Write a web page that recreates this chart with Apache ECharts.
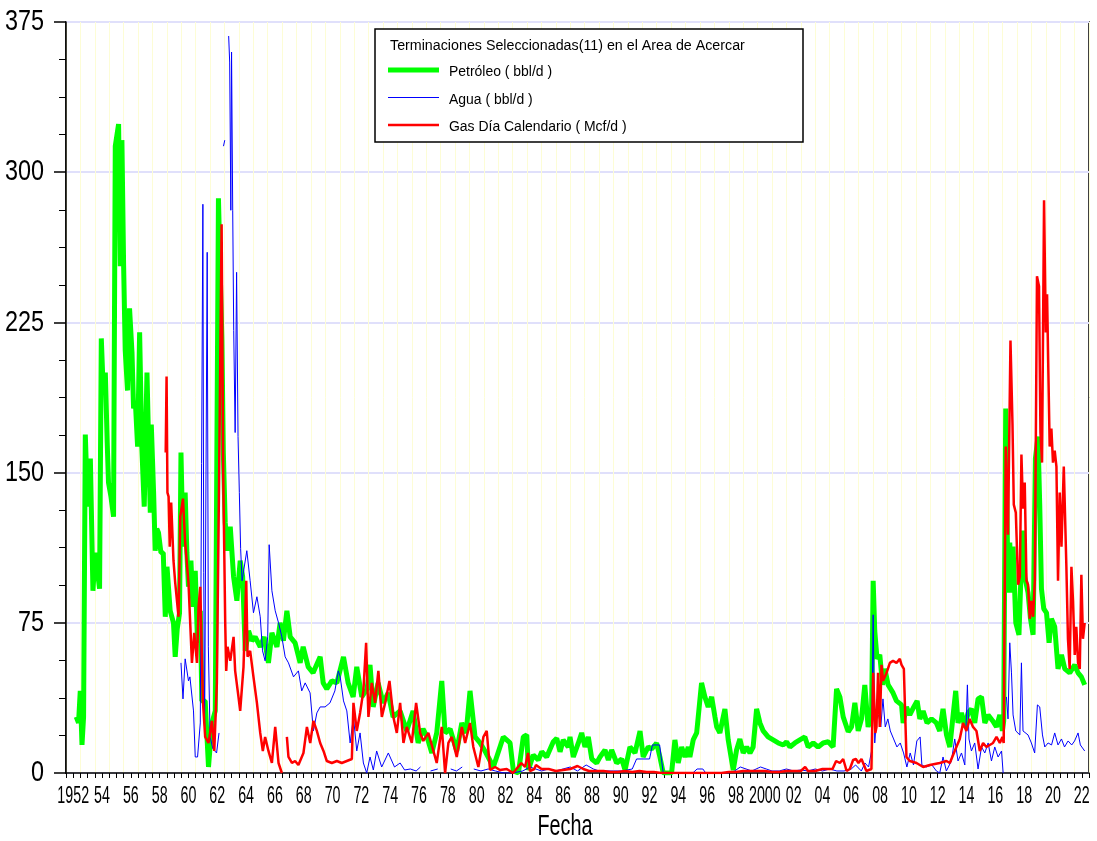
<!DOCTYPE html>
<html>
<head>
<meta charset="utf-8">
<script src="https://cdn.jsdelivr.net/npm/echarts@6/dist/echarts.min.js"></script>
<style>
html,body{margin:0;padding:0;background:#fff;}
#chart{width:1097px;height:841px;}
</style>
</head>
<body>
<div id="chart"></div>
<script>
// ---- Data (year, value) ----
const oil = [
[1952.71,28],[1952.87,25],[1952.99,41],[1953.11,14],[1953.22,28],[1953.34,169],[1953.50,133],[1953.69,157],[1953.87,91],[1954.03,110],[1954.33,92],[1954.45,217],[1954.59,190],[1954.73,200],[1954.86,165],[1954.95,145],[1955.12,138],[1955.30,128],[1955.42,313],[1955.65,324],[1955.77,253],[1955.88,316],[1956.00,253],[1956.11,211],[1956.27,191],[1956.41,232],[1956.58,210],[1956.69,182],[1956.81,186],[1956.97,163],[1957.11,220],[1957.26,163],[1957.43,133],[1957.62,200],[1957.73,166],[1957.85,130],[1957.92,174],[1958.08,140],[1958.19,111],[1958.30,122],[1958.42,120],[1958.59,110],[1958.75,110],[1958.89,78],[1959.01,103],[1959.23,81],[1959.46,75],[1959.58,58],[1959.72,72],[1959.88,80],[1959.98,160],[1960.12,113],[1960.27,140],[1960.39,110],[1960.50,93],[1960.67,106],[1960.81,83],[1960.97,101],[1961.13,65],[1961.32,81],[1961.43,36],[1961.66,36],[1961.89,3],[1962.13,25],[1962.36,31],[1962.58,287],[1962.70,287],[1962.82,216],[1962.92,160],[1963.05,125],[1963.21,111],[1963.40,123],[1963.63,98],[1963.86,86],[1964.09,106],[1964.26,98],[1964.44,61],[1964.67,71],[1964.90,66],[1965.13,68],[1965.48,63],[1965.75,68],[1966.05,55],[1966.29,70],[1966.64,63],[1966.86,75],[1967.09,66],[1967.33,81],[1967.56,68],[1967.90,65],[1968.25,55],[1968.46,63],[1968.81,53],[1969.15,50],[1969.64,58],[1969.85,45],[1970.10,42],[1970.45,46],[1970.80,45],[1971.26,58],[1971.58,45],[1971.93,38],[1972.18,53],[1972.53,38],[1972.90,42],[1973.10,54],[1973.32,33],[1973.66,45],[1974.01,35],[1974.36,40],[1974.70,28],[1975.19,31],[1975.65,21],[1976.09,31],[1976.44,15],[1976.78,22],[1977.06,18],[1977.39,10],[1977.73,20],[1978.08,46],[1978.31,20],[1978.66,22],[1979.12,11],[1979.47,25],[1979.77,20],[1980.04,41],[1980.39,18],[1980.74,15],[1981.08,11],[1981.66,3],[1982.35,18],[1982.82,15],[1983.05,1],[1983.40,0],[1983.74,18],[1983.98,19],[1984.09,1.5],[1984.43,9],[1984.78,6.5],[1985.02,10.6],[1985.36,8],[1985.82,15.6],[1986.06,17.3],[1986.29,10.6],[1986.51,16.5],[1986.86,13],[1986.98,18],[1987.21,8],[1987.56,15],[1987.79,20],[1988.02,13],[1988.25,18],[1988.49,7],[1988.83,5],[1989.06,8],[1989.41,11.5],[1989.64,6.5],[1989.87,11.5],[1990.22,5],[1990.57,7],[1990.80,1.5],[1991.14,13],[1991.49,10],[1991.84,21],[1992.06,8],[1992.41,13],[1992.65,12],[1992.99,15],[1993.22,8],[1993.45,0],[1994.03,0],[1994.26,16.5],[1994.49,5],[1994.73,13],[1994.96,8],[1995.19,13],[1995.30,8],[1995.53,16.5],[1995.77,20],[1996.11,45],[1996.34,38],[1996.57,33],[1996.81,38],[1997.04,28],[1997.16,23],[1997.38,20],[1997.73,32],[1997.96,16.5],[1998.31,1.5],[1998.54,11.5],[1998.77,17],[1999.00,10],[1999.24,13],[1999.47,10],[1999.69,13],[1999.93,32],[2000.16,25],[2000.39,21],[2000.73,18],[2001.08,16.5],[2001.43,15],[2001.78,14],[2002.01,15.6],[2002.24,13],[2002.59,15],[2002.93,16.5],[2003.28,18],[2003.51,13],[2003.86,15],[2004.20,13],[2004.55,15],[2004.90,15.6],[2005.24,13],[2005.48,42],[2005.71,38],[2005.94,28],[2006.29,20.6],[2006.52,23],[2006.75,35],[2006.98,21],[2007.21,27],[2007.44,44],[2007.67,23],[2007.91,30],[2008.02,96],[2008.13,71],[2008.29,57],[2008.48,59],[2008.67,44],[2008.83,52],[2009.06,44],[2009.40,40],[2009.64,36],[2009.99,34],[2010.10,25],[2010.33,33],[2010.56,29],[2010.84,33],[2011.07,36],[2011.26,27],[2011.49,31],[2011.76,25],[2012.07,27],[2012.41,25],[2012.64,21],[2012.87,32],[2013.11,19],[2013.34,13],[2013.57,29],[2013.75,41],[2013.91,25],[2014.15,30],[2014.38,23],[2014.61,30],[2014.84,32],[2015.07,25],[2015.30,37],[2015.54,38],[2015.77,25],[2016.00,29],[2016.32,26],[2016.58,23],[2016.81,29],[2016.99,21],[2017.08,26],[2017.22,182],[2017.38,90],[2017.50,115],[2017.62,90],[2017.73,113],[2017.92,75],[2018.14,69],[2018.38,121],[2018.54,98],[2018.77,90],[2018.94,77],[2019.12,69],[2019.28,157],[2019.46,168],[2019.58,134],[2019.70,92],[2019.86,82],[2020.05,80],[2020.23,65],[2020.39,77],[2020.62,73],[2020.85,52],[2021.09,59],[2021.32,52],[2021.66,50],[2022.01,54],[2022.24,50],[2022.47,48],[2022.70,44]
];
const water = [
[1959.98,55],[1960.12,37],[1960.27,57],[1960.50,46],[1960.60,48],[1960.85,31],[1960.97,8],[1961.13,8],[1961.32,25],[1961.50,284],[1961.56,100],[1961.62,20],[1961.80,260],[1961.88,63],[1962.00,18],[1962.20,12],[1962.45,10],[1962.62,20],[1962.80,null],[1962.93,313],[1963.02,316],[1963.10,null],[1963.29,368],[1963.36,355],[1963.44,281],[1963.49,360],[1963.57,281],[1963.64,221],[1963.74,170],[1963.84,250],[1963.94,168],[1964.03,140],[1964.12,112],[1964.22,96],[1964.55,111],[1964.78,96],[1965.01,80],[1965.25,88],[1965.48,78],[1965.64,61],[1965.82,56],[1966.00,68],[1966.10,114],[1966.29,91],[1966.52,81],[1966.75,75],[1966.98,68],[1967.21,58],[1967.44,55],[1967.79,48],[1968.13,51],[1968.36,41],[1968.60,45],[1968.94,40],[1969.17,21],[1969.41,30],[1969.64,33],[1969.98,33],[1970.32,35],[1970.66,41],[1970.90,51],[1971.03,48],[1971.26,36],[1971.49,31],[1971.72,15],[1971.95,28],[1972.18,11],[1972.41,20],[1972.64,5],[1972.87,0],[1973.10,8],[1973.33,1.5],[1973.56,11],[1973.91,3],[1974.37,10],[1974.80,3],[1975.19,5],[1975.50,1.5],[1975.90,2],[1976.30,1],[1976.60,3],[1976.90,null],[1977.30,1],[1977.80,2],[1978.20,null],[1978.70,2],[1979.10,1],[1979.50,3],[1979.90,null],[1980.30,2],[1980.80,1],[1981.30,2],[1981.80,1],[1982.40,0],[1983.00,0],[1983.70,1],[1984.20,3],[1984.60,2],[1985.00,1],[1985.50,2],[1986.00,1],[1986.50,2],[1987.00,3],[1987.50,1],[1988.10,4],[1988.60,2],[1989.00,1],[1989.50,1],[1990.00,1],[1990.60,1],[1991.30,2],[1991.60,7],[1992.50,7],[1992.70,14],[1993.20,14],[1993.45,0],[1995.50,0],[1995.80,2],[1996.20,2],[1996.40,0],[1998.00,0],[1998.40,1],[1998.80,3],[1999.20,2],[1999.60,1],[2000.20,3],[2000.60,2],[2001.00,1],[2001.50,1],[2002.00,2],[2002.50,1],[2003.00,1.5],[2003.50,1],[2004.00,2],[2004.50,1],[2005.00,2],[2005.50,1],[2006.00,1],[2006.50,2],[2006.80,4],[2007.20,1],[2007.45,5],[2007.70,3],[2007.91,11],[2008.02,79],[2008.13,15],[2008.25,27],[2008.40,29],[2008.55,23],[2008.70,37],[2008.86,23],[2009.04,27],[2009.21,21],[2009.44,17],[2009.67,13],[2009.90,15],[2010.13,10],[2010.36,3],[2010.59,10],[2010.82,4],[2011.05,16],[2011.28,18],[2011.40,4],[2011.70,3],[2012.10,4],[2012.41,1],[2012.64,0],[2012.87,8],[2013.10,1],[2013.45,6],[2013.68,17],[2013.91,6],[2014.15,10],[2014.38,4],[2014.56,44],[2014.67,17],[2014.84,11],[2015.07,15],[2015.30,2],[2015.54,13],[2015.77,10],[2016.00,15],[2016.23,6],[2016.46,13],[2016.69,8],[2016.93,11],[2017.04,0],[2017.12,null],[2017.27,38],[2017.38,27],[2017.50,65],[2017.62,50],[2017.73,29],[2017.92,21],[2018.20,19],[2018.31,55],[2018.42,21],[2018.77,19],[2019.00,15],[2019.23,10],[2019.42,34],[2019.58,33],[2019.77,19],[2019.93,13],[2020.16,15],[2020.40,14],[2020.62,20],[2020.85,14],[2021.09,17],[2021.30,13],[2021.55,16],[2021.80,14],[2022.00,16],[2022.24,20],[2022.40,14],[2022.70,11]
];
const gas = [
[1958.92,160],[1958.98,198],[1959.04,140],[1959.12,138],[1959.20,113],[1959.30,135],[1959.46,106],[1959.58,95],[1959.81,78],[1959.93,128],[1960.12,137],[1960.27,115],[1960.50,95],[1960.74,55],[1960.90,70],[1961.09,55],[1961.20,83],[1961.32,93],[1961.50,36],[1961.66,18],[1961.89,15],[1962.13,26],[1962.29,11],[1962.47,45],[1962.63,150],[1962.80,274],[1962.91,150],[1963.05,75],[1963.12,51],[1963.21,63],[1963.40,56],[1963.63,68],[1963.74,51],[1963.97,38],[1964.09,31],[1964.32,53],[1964.51,96],[1964.60,58],[1964.78,61],[1965.01,48],[1965.25,35],[1965.48,20],[1965.66,11],[1965.82,18],[1966.05,11],[1966.29,5],[1966.52,23],[1966.75,5],[1966.98,0],[1967.15,null],[1967.33,18],[1967.44,8],[1967.68,5],[1967.90,6],[1968.13,4],[1968.48,10],[1968.72,23],[1968.95,15],[1969.17,26],[1969.41,21],[1969.64,15],[1969.87,11],[1970.10,6],[1970.45,5],[1970.80,6],[1971.14,5],[1971.49,6],[1971.84,7],[1971.95,35],[1972.18,21],[1972.41,30],[1972.64,41],[1972.83,65],[1972.99,28],[1973.22,45],[1973.45,35],[1973.68,51],[1973.92,28],[1974.15,35],[1974.45,46],[1974.72,28],[1974.96,20],[1975.19,35],[1975.42,15],[1975.65,23],[1976.00,15],[1976.30,35],[1976.58,20],[1976.80,16],[1977.15,20],[1977.50,11],[1977.73,5],[1978.08,23],[1978.31,0],[1978.54,15],[1978.77,18],[1979.12,8],[1979.47,23],[1979.70,15],[1980.04,25],[1980.27,13],[1980.62,3],[1980.97,18],[1981.20,21],[1981.43,1.5],[1981.78,3],[1982.12,1.5],[1982.59,2],[1983.03,0],[1983.60,5],[1983.86,3],[1984.07,10],[1984.20,1],[1984.50,2],[1984.62,4],[1985.00,2],[1985.50,2],[1986.00,1],[1986.50,1.5],[1987.00,2],[1987.50,3.5],[1987.90,2],[1988.30,1],[1988.80,1],[1989.30,1],[1989.80,0.5],[1990.30,0.5],[1990.80,1],[1991.30,0.5],[1991.80,1],[1992.30,0.5],[1992.80,0.5],[1993.30,0],[1997.50,0],[1998.00,0.5],[1998.50,0.5],[1999.00,1],[1999.50,1],[2000.00,1],[2000.50,1],[2001.00,0.5],[2001.50,0.5],[2002.00,1],[2002.50,1],[2003.00,1],[2003.30,3],[2003.50,1],[2004.00,1],[2004.50,2],[2004.90,2],[2005.20,2],[2005.45,6],[2005.71,5],[2005.94,7],[2006.18,1],[2006.40,2],[2006.63,6.5],[2006.82,7],[2007.00,5],[2007.21,7],[2007.55,1],[2007.90,2],[2008.02,50],[2008.17,20],[2008.25,23],[2008.36,50],[2008.48,23],[2008.60,54],[2008.71,46],[2008.95,50],[2009.18,55],[2009.40,56],[2009.64,55],[2009.87,57],[2009.99,54],[2010.15,52],[2010.33,8],[2010.56,6],[2011.03,5],[2011.49,3],[2011.95,4],[2012.64,5],[2013.11,6],[2013.34,5],[2013.68,11],[2014.03,17],[2014.26,25],[2014.49,21],[2014.72,27],[2014.95,23],[2015.19,21],[2015.42,11],[2015.65,15],[2015.88,13],[2016.11,14],[2016.34,15],[2016.58,18],[2016.81,15],[2016.99,18],[2017.08,15],[2017.22,163],[2017.38,119],[2017.55,216],[2017.69,174],[2017.78,134],[2017.92,130],[2018.08,94],[2018.20,98],[2018.31,159],[2018.42,132],[2018.54,145],[2018.66,96],[2018.77,94],[2018.89,77],[2019.00,86],[2019.12,78],[2019.24,96],[2019.39,248],[2019.53,243],[2019.63,170],[2019.74,155],[2019.88,286],[2020.00,220],[2020.09,239],[2020.18,200],[2020.27,163],[2020.39,172],[2020.50,155],[2020.62,161],[2020.74,153],[2020.85,96],[2020.97,140],[2021.09,113],[2021.25,153],[2021.43,103],[2021.54,67],[2021.66,52],[2021.78,103],[2021.89,86],[2022.01,59],[2022.12,73],[2022.24,55],[2022.36,52],[2022.47,99],[2022.58,67],[2022.70,75]
];
const seriesNames = ['Petróleo ( bbl/d )', 'Agua ( bbl/d )', 'Gas Día Calendario ( Mcf/d )'];
const seriesColors = ['#00ff00', '#0000ff', '#ff0000'];
const seriesWidths = [5, 1, 2.5];
const legendTitle = 'Terminaciones Seleccionadas(11) en el Area de Acercar';
const xTitle = 'Fecha';
const yTicks = [0, 75, 150, 225, 300, 375];
const yTickLabels = ['0', '75', '150', '225', '300', '375'];
const xTickLabels = ['1952','54','56','58','60','62','64','66','68','70','72','74','76','78','80','82','84','86','88','90','92','94','96','98','2000','02','04','06','08','10','12','14','16','18','20','22'];
const yearStart = 1952, yearEnd = 2023;

const FONT = "'Liberation Sans',Arial,sans-serif";

const chart = echarts.init(document.getElementById('chart'), null, {renderer: 'canvas'});
chart.setOption({
  animation: false,
  backgroundColor: '#fff',
  grid: {left: 66, right: 8, top: 22, bottom: 68, show: true, borderColor: '#000', borderWidth: 1.5,
    backgroundColor: 'transparent', outerBoundsMode: 'none', containLabel: false},
  xAxis: [{
    type: 'value', min: yearStart, max: yearEnd, interval: 0.5,
    axisLine: {show: true, onZero: false, lineStyle: {color: '#000', width: 1.5}},
    axisTick: {show: true, length: 5, lineStyle: {color: '#000'}},
    axisLabel: {show: false},
    splitLine: {show: false}
  }, {
    type: 'value', min: yearStart, max: yearEnd, interval: 1, position: 'top',
    axisLine: {show: false}, axisTick: {show: false}, axisLabel: {show: false},
    splitLine: {show: true, lineStyle: {color: '#fdfdd6', width: 1}}
  }],
  yAxis: {
    type: 'value', min: yTicks[0], max: yTicks[yTicks.length - 1], interval: 75,
    axisLine: {show: true, lineStyle: {color: '#000', width: 1.5}},
    axisTick: {show: true, length: 12, lineStyle: {color: '#000', width: 1.5}},
    minorTick: {show: true, splitNumber: 4, length: 7, lineStyle: {color: '#000', width: 1}},
    axisLabel: {show: false},
    splitLine: {show: true, lineStyle: {color: '#e0e0fb', width: 2}}
  },
  series: seriesNames.map((n, i) => ({
    name: n, type: 'line', data: [oil, water, gas][i], xAxisIndex: 0,
    showSymbol: false, symbol: 'none', connectNulls: false,
    lineStyle: {color: seriesColors[i], width: seriesWidths[i]}, itemStyle: {color: seriesColors[i]}
  }))
});

// ---- texts placed through the chart's own axis scales ----
const g = [];
function txt(text, x, y, size, sx, align, extra) {
  return Object.assign({type: 'text', x: x, y: y, scaleX: sx, z: 20, silent: true,
    style: {text: text, fontFamily: FONT, fontSize: size, fill: '#000',
      textAlign: align, align: align, textVerticalAlign: 'middle', verticalAlign: 'middle'}}, extra || {});
}
xTickLabels.forEach((t, i) => {
  const px = chart.convertToPixel({xAxisIndex: 0}, yearStart + 2 * i + 0.5);
  g.push(txt(t, px, 797, 23, 0.62, 'center'));
});
yTicks.forEach((v, i) => {
  const py = chart.convertToPixel({yAxisIndex: 0}, v);
  g.push(txt(yTickLabels[i], 44, py, 30, 0.78, 'right'));
});
g.push(txt(xTitle, 565, 827, 30, 0.66, 'center'));
// legend box
g.push({type: 'rect', z: 15, shape: {x: 375, y: 29, width: 428, height: 113},
  style: {fill: '#fff', stroke: '#000', lineWidth: 1.5}});
g.push(txt(legendTitle, 390, 46, 15.5, 0.92, 'left'));
const rowY = [72, 99.5, 127];
seriesNames.forEach((n, i) => {
  g.push({type: 'line', z: 20, shape: {x1: 388, y1: rowY[i] - 2, x2: 439, y2: rowY[i] - 2},
    style: {stroke: seriesColors[i], lineWidth: seriesWidths[i]}});
  g.push(txt(n, 449, rowY[i], 15.5, 0.9, 'left'));
});
chart.setOption({graphic: g});
</script>
</body>
</html>
